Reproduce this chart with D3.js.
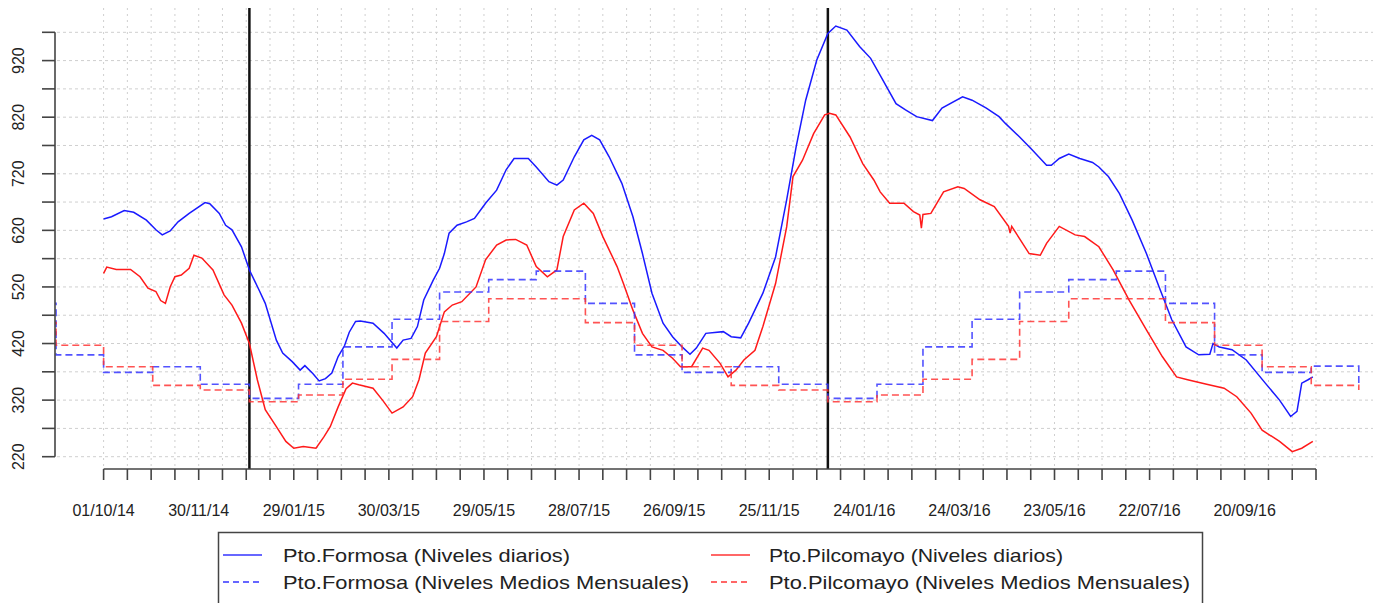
<!DOCTYPE html>
<html>
<head>
<meta charset="utf-8">
<script src="https://cdn.jsdelivr.net/npm/d3@7"></script>
<style>
  html, body { margin: 0; padding: 0; background: #fff; }
  svg { display: block; }
  text { font-family: "Liberation Sans", Arial, sans-serif; fill: #222; }
</style>
</head>
<body>
<svg id="chart" width="1373" height="603"></svg>
<script>
// ---------------- DATA ----------------
const formosaDaily = [
  ["2014-10-01",640],["2014-10-06",644],["2014-10-14",655],["2014-10-20",652],["2014-10-28",638],
  ["2014-11-03",621],["2014-11-07",612],["2014-11-12",619],["2014-11-17",635],["2014-11-24",650],
  ["2014-12-04",669],["2014-12-07",667],["2014-12-13",650],["2014-12-17",629],["2014-12-21",621],
  ["2014-12-27",591],["2015-01-01",550],["2015-01-07",515],["2015-01-11",491],["2015-01-18",426],
  ["2015-01-22",403],["2015-01-28",388],["2015-02-02",373],["2015-02-05",381],["2015-02-10",367],
  ["2015-02-14",354],["2015-02-18",358],["2015-02-22",368],["2015-02-26",397],["2015-03-02",416],
  ["2015-03-05",440],["2015-03-09",459],["2015-03-12",460],["2015-03-20",456],["2015-03-27",438],
  ["2015-04-04",412],["2015-04-08",426],["2015-04-13",429],["2015-04-17",450],["2015-04-21",497],
  ["2015-04-27",532],["2015-05-01",553],["2015-05-04",579],["2015-05-07",615],["2015-05-12",629],
  ["2015-05-18",635],["2015-05-23",641],["2015-05-30",668],["2015-06-06",691],["2015-06-12",727],
  ["2015-06-17",747],["2015-06-26",747],["2015-07-01",732],["2015-07-09",706],["2015-07-14",700],
  ["2015-07-18",709],["2015-07-25",750],["2015-07-31",780],["2015-08-05",788],["2015-08-10",780],
  ["2015-08-16",750],["2015-08-24",703],["2015-08-31",644],["2015-09-06",579],["2015-09-12",509],
  ["2015-09-19",456],["2015-09-25",432],["2015-10-01",414],["2015-10-06",401],["2015-10-10",412],
  ["2015-10-16",438],["2015-10-27",441],["2015-11-01",432],["2015-11-07",430],["2015-11-12",456],
  ["2015-11-21",509],["2015-11-29",573],["2015-12-06",674],["2015-12-12",768],["2015-12-18",850],
  ["2015-12-25",921],["2016-01-01",968],["2016-01-06",981],["2016-01-13",974],["2016-01-21",945],
  ["2016-01-28",924],["2016-02-04",889],["2016-02-13",844],["2016-02-19",833],["2016-02-26",821],
  ["2016-03-07",814],["2016-03-13",836],["2016-03-26",856],["2016-04-01",850],["2016-04-10",836],
  ["2016-04-18",821],["2016-04-22",809],["2016-05-01",785],["2016-05-09",762],["2016-05-18",735],
  ["2016-05-21",735],["2016-05-26",747],["2016-06-01",755],["2016-06-08",747],["2016-06-16",740],
  ["2016-06-20",732],["2016-06-26",715],["2016-07-03",685],["2016-07-11",638],["2016-07-20",579],
  ["2016-07-28",520],["2016-08-05",462],["2016-08-14",414],["2016-08-22",400],["2016-08-29",401],
  ["2016-08-31",420],["2016-09-04",414],["2016-09-12",409],["2016-09-21",391],["2016-10-03",350],
  ["2016-10-12",320],["2016-10-19",291],["2016-10-23",300],["2016-10-26",350],["2016-10-30",356],
  ["2016-11-02",361]
];

const pilcomayoDaily = [
  ["2014-10-01",544],["2014-10-03",555],["2014-10-09",551],["2014-10-18",551],["2014-10-24",538],
  ["2014-10-29",518],["2014-11-03",512],["2014-11-06",496],["2014-11-09",491],["2014-11-12",520],
  ["2014-11-15",538],["2014-11-19",541],["2014-11-24",553],["2014-11-27",576],["2014-12-02",571],
  ["2014-12-09",550],["2014-12-16",506],["2014-12-21",488],["2014-12-27",456],["2015-01-01",420],
  ["2015-01-06",356],["2015-01-11",303],["2015-01-18",273],["2015-01-24",247],["2015-01-29",235],
  ["2015-02-04",238],["2015-02-12",235],["2015-02-17",255],["2015-02-21",273],["2015-02-26",308],
  ["2015-03-03",340],["2015-03-07",350],["2015-03-11",347],["2015-03-20",341],["2015-03-26",320],
  ["2015-04-01",297],["2015-04-08",308],["2015-04-14",326],["2015-04-18",356],["2015-04-22",403],
  ["2015-04-29",432],["2015-05-04",476],["2015-05-09",488],["2015-05-15",494],["2015-05-24",520],
  ["2015-05-30",568],["2015-06-06",594],["2015-06-12",603],["2015-06-18",604],["2015-06-25",594],
  ["2015-07-01",556],["2015-07-08",538],["2015-07-14",550],["2015-07-18",609],["2015-07-25",656],
  ["2015-07-31",668],["2015-08-06",650],["2015-08-12",609],["2015-08-21",556],["2015-08-25",526],
  ["2015-08-31",479],["2015-09-06",438],["2015-09-12",414],["2015-09-19",408],["2015-09-25",394],
  ["2015-09-30",379],["2015-10-07",379],["2015-10-14",412],["2015-10-18",408],["2015-10-25",385],
  ["2015-10-30",361],["2015-11-04",373],["2015-11-09",391],["2015-11-16",408],["2015-11-21",450],
  ["2015-11-29",526],["2015-12-06",626],["2015-12-10",715],["2015-12-16",744],["2015-12-23",791],
  ["2015-12-30",824],["2016-01-02",827],["2016-01-06",824],["2016-01-15",785],["2016-01-23",738],
  ["2016-01-30",709],["2016-02-03",688],["2016-02-09",668],["2016-02-18",668],["2016-02-24",653],
  ["2016-02-28",647],["2016-02-29",624],["2016-03-01",648],["2016-03-06",650],["2016-03-14",688],
  ["2016-03-23",697],["2016-03-27",694],["2016-04-06",674],["2016-04-15",662],["2016-04-24",627],
  ["2016-04-25",615],["2016-04-26",627],["2016-05-07",579],["2016-05-14",576],["2016-05-18",597],
  ["2016-05-26",627],["2016-06-05",612],["2016-06-11",609],["2016-06-20",591],["2016-06-29",550],
  ["2016-07-09",497],["2016-07-20",444],["2016-07-30",397],["2016-08-08",361],["2016-08-15",356],
  ["2016-08-27",348],["2016-09-07",341],["2016-09-15",326],["2016-09-24",297],["2016-10-01",267],
  ["2016-10-12",247],["2016-10-20",229],["2016-10-26",235],["2016-11-02",247]
];

const monthStarts = [
  "2014-08-01","2014-09-01","2014-10-01","2014-11-01","2014-12-01",
  "2015-01-01","2015-02-01","2015-03-01","2015-04-01","2015-05-01","2015-06-01",
  "2015-07-01","2015-08-01","2015-09-01","2015-10-01","2015-11-01","2015-12-01",
  "2016-01-01","2016-02-01","2016-03-01","2016-04-01","2016-05-01","2016-06-01",
  "2016-07-01","2016-08-01","2016-09-01","2016-10-01","2016-11-01","2016-12-01"
];
const formosaMonthly = [
  491,400,369,379,348,
  323,348,414,463,511,533,
  548,491,400,369,379,348,
  323,348,414,463,511,533,
  548,491,400,369,380,348
];
const pilcomayoMonthly = [
  457,417,379,346,338,
  317,329,357,392,459,499,
  499,457,417,379,346,338,
  317,329,357,392,459,499,
  499,457,417,379,346,338
];

const xLabelDates = ["01/10/14","30/11/14","29/01/15","30/03/15","29/05/15","28/07/15",
  "26/09/15","25/11/15","24/01/16","24/03/16","23/05/16","22/07/16","20/09/16"];
const yTickValues = d3.range(220, 971, 50);
const yLabelValues = [220,320,420,520,620,720,820,920];
const markerDates = ["2015-01-01","2016-01-01"];

const legendItems = [
  {label:"Pto.Formosa (Niveles diarios)", color:"blue", dashed:false, col:0, row:0, len:287},
  {label:"Pto.Formosa (Niveles Medios Mensuales)", color:"blue", dashed:true, col:0, row:1, len:406},
  {label:"Pto.Pilcomayo (Niveles diarios)", color:"red", dashed:false, col:1, row:0, len:294},
  {label:"Pto.Pilcomayo (Niveles Medios Mensuales)", color:"red", dashed:true, col:1, row:1, len:421}
];

// ---------------- LAYOUT ----------------
const parse = d3.utcParse("%Y-%m-%d");
const parseLbl = d3.utcParse("%d/%m/%y");
const plot = {left:55, right:1373, top:8, bottom:469};

const x = d3.scaleUtc()
  .domain([parse("2014-10-01"), parse("2016-11-04")])
  .range([103.6, 1316]);
const y = d3.scaleLinear().domain([220, 970]).range([456.7, 32.3]);

const svg = d3.select("#chart");

svg.append("defs").append("clipPath").attr("id","clip")
  .append("rect").attr("x", plot.left).attr("y", plot.top)
  .attr("width", plot.right - plot.left).attr("height", plot.bottom - plot.top);

// x tick dates: every 15 days from first label through axis end
const xStart = parse("2014-10-01");
const xTicks = d3.range(0, 52).map(i => d3.utcDay.offset(xStart, 15 * i));

// grid
const grid = svg.append("g");
grid.selectAll("line.h").data(yTickValues).join("line")
  .attr("x1", plot.left + 2).attr("x2", plot.right)
  .attr("y1", d => y(d)).attr("y2", d => y(d))
  .attr("stroke", "#cfcfcf").attr("stroke-width", 1).attr("stroke-dasharray", "3,3");
grid.selectAll("line.v").data(xTicks).join("line")
  .attr("x1", d => x(d)).attr("x2", d => x(d))
  .attr("y1", plot.top).attr("y2", plot.bottom)
  .attr("stroke", "#cfcfcf").attr("stroke-width", 1).attr("stroke-dasharray", "2,4");

// marker lines
svg.append("g").selectAll("line").data(markerDates).join("line")
  .attr("x1", d => x(parse(d))).attr("x2", d => x(parse(d)))
  .attr("y1", plot.top).attr("y2", plot.bottom)
  .attr("stroke", "#111").attr("stroke-width", 2.5);

const body = svg.append("g").attr("clip-path", "url(#clip)");

// monthly step lines
const stepLine = d3.line().curve(d3.curveStepAfter)
  .x(d => x(d[0])).y(d => y(d[1]));
const fm = monthStarts.map((d, i) => [parse(d), formosaMonthly[i]]);
const pm = monthStarts.map((d, i) => [parse(d), pilcomayoMonthly[i]]);

// daily lines
const line = d3.line().x(d => x(parse(d[0]))).y(d => y(d[1]));
body.append("path").attr("d", line(formosaDaily))
  .attr("fill", "none").attr("stroke", "#1a1aff").attr("stroke-width", 1.5);
body.append("path").attr("d", line(pilcomayoDaily))
  .attr("fill", "none").attr("stroke", "#ff1a1a").attr("stroke-width", 1.5);

body.append("path").attr("d", stepLine(fm))
  .attr("fill", "none").attr("stroke", "#3535ff").attr("stroke-width", 1.6)
  .attr("stroke-dasharray", "7,4").attr("stroke-opacity", 0.85);
body.append("path").attr("d", stepLine(pm))
  .attr("fill", "none").attr("stroke", "#ff3535").attr("stroke-width", 1.6)
  .attr("stroke-dasharray", "7,4").attr("stroke-opacity", 0.85);

// y axis
const axisColor = "#444";
const ya = svg.append("g");
ya.append("line").attr("x1", plot.left).attr("x2", plot.left)
  .attr("y1", y(220)).attr("y2", y(970)).attr("stroke", axisColor).attr("stroke-width", 1.6);
ya.selectAll("line.t").data(yTickValues).join("line")
  .attr("x1", plot.left - 13).attr("x2", plot.left)
  .attr("y1", d => y(d)).attr("y2", d => y(d))
  .attr("stroke", axisColor).attr("stroke-width", 1.6);
ya.selectAll("text").data(yLabelValues).join("text")
  .attr("transform", d => `translate(24,${y(d)}) rotate(-90)`)
  .attr("text-anchor", "middle").attr("font-size", 16)
  .text(d => d);

// x axis
const xa = svg.append("g");
xa.append("line").attr("x1", x(xTicks[0])).attr("x2", x(xTicks[xTicks.length - 1]))
  .attr("y1", plot.bottom).attr("y2", plot.bottom)
  .attr("stroke", axisColor).attr("stroke-width", 1.6);
xa.selectAll("line.t").data(xTicks).join("line")
  .attr("x1", d => x(d)).attr("x2", d => x(d))
  .attr("y1", plot.bottom).attr("y2", plot.bottom + 11)
  .attr("stroke", axisColor).attr("stroke-width", 1.6);
xa.selectAll("text").data(xLabelDates).join("text")
  .attr("x", d => x(parseLbl(d))).attr("y", 516)
  .attr("text-anchor", "middle").attr("font-size", 16)
  .text(d => d);

// legend
const lg = svg.append("g");
lg.append("rect").attr("x", 218.5).attr("y", 532.5).attr("width", 984).attr("height", 120)
  .attr("fill", "#fff").attr("stroke", "#444").attr("stroke-width", 1.5);
const colX = [223, 711];
const textX = [283, 769];
const rowY = [555, 582];
const li = lg.selectAll("g.item").data(legendItems).join("g");
li.append("line")
  .attr("x1", d => colX[d.col]).attr("x2", d => colX[d.col] + 39)
  .attr("y1", d => rowY[d.row]).attr("y2", d => rowY[d.row])
  .attr("stroke", d => d.color === "blue" ? "#3535ff" : "#ff3535")
  .attr("stroke-width", 1.6)
  .attr("stroke-dasharray", d => d.dashed ? "6,4" : null);
li.append("text")
  .attr("x", d => textX[d.col]).attr("y", d => rowY[d.row] + 7)
  .attr("font-size", 19)
  .attr("textLength", d => d.len).attr("lengthAdjust", "spacingAndGlyphs")
  .text(d => d.label);
</script>
</body>
</html>
